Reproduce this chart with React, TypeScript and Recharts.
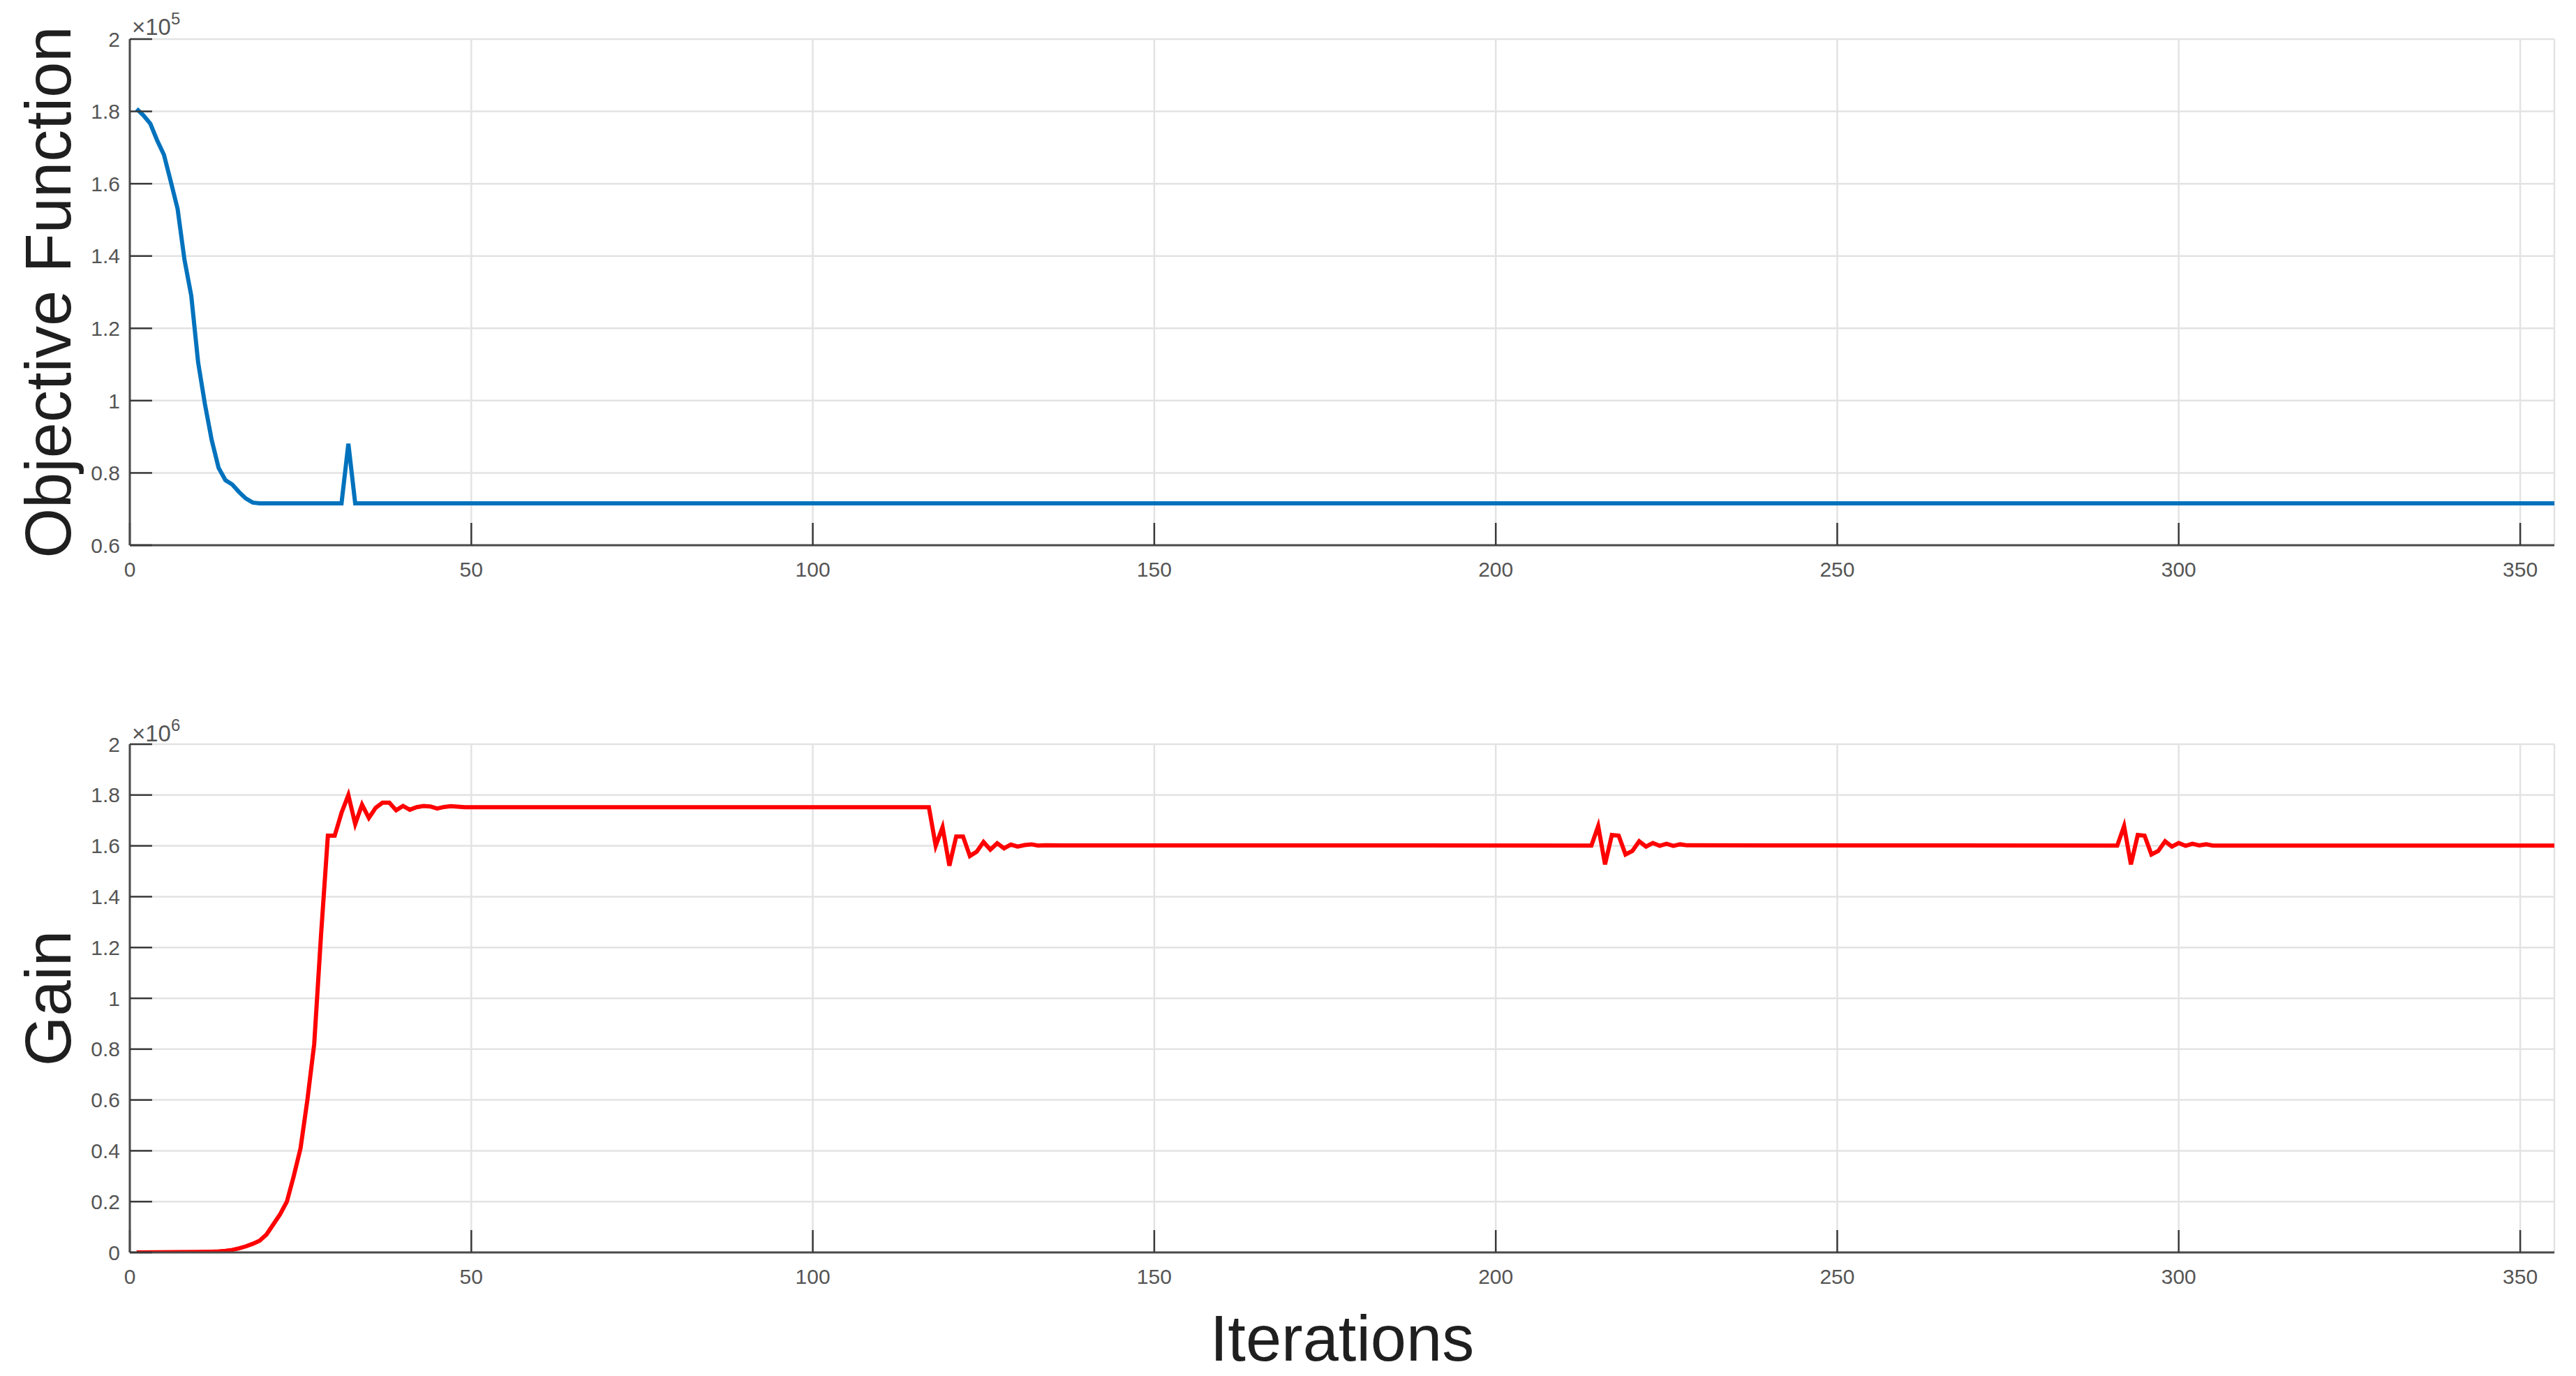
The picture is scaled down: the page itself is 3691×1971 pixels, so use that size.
import { LineChart, Line, XAxis, YAxis, CartesianGrid, Label } from "recharts";

const FONT = '"Liberation Sans", Arial, Helvetica, sans-serif';

const iterTicks = [0, 50, 100, 150, 200, 250, 300, 350];
const objTicks = [0.6, 0.8, 1, 1.2, 1.4, 1.6, 1.8, 2];
const gainTicks = [0, 0.2, 0.4, 0.6, 0.8, 1, 1.2, 1.4, 1.6, 1.8, 2];

// objective function, in units of 1e5
const objIterations = [
  1, 2, 3, 4, 5, 6, 7, 8, 9, 10, 11, 12, 13, 14, 15, 16, 17, 18, 19, 31, 32, 33, 355,
];
const objValues = [
  1.807, 1.789, 1.766, 1.72, 1.68, 1.606, 1.53, 1.39, 1.29, 1.106, 0.99, 0.89, 0.814,
  0.78, 0.768, 0.747, 0.729, 0.718, 0.716, 0.716, 0.881, 0.716, 0.716,
];

// gain, in units of 1e6
const gainIterations = [
  1, 10, 12, 13, 14, 15, 16, 17, 18, 19, 20, 21, 22, 23, 24, 25, 26, 27, 28, 29, 30,
  31, 32, 33, 34, 35, 36, 37, 38, 39, 40, 41, 42, 43, 44, 45, 46, 47, 48, 49,
  117, 118, 119, 120, 121, 122, 123, 124, 125, 126, 127, 128, 129, 130, 131, 132, 133, 134,
  214, 215, 216, 217, 218, 219, 220, 221, 222, 223, 224, 225, 226, 227, 228,
  291, 292, 293, 294, 295, 296, 297, 298, 299, 300, 301, 302, 303, 304, 305, 355,
];
const gainValues = [
  0, 0.002, 0.003, 0.004, 0.006, 0.01, 0.016, 0.024, 0.034, 0.046, 0.07, 0.11, 0.15,
  0.2, 0.3, 0.41, 0.6, 0.82, 1.25, 1.64, 1.64,
  1.73, 1.8, 1.686, 1.762, 1.71, 1.75, 1.77, 1.77, 1.74, 1.757, 1.742, 1.752, 1.757,
  1.755, 1.747, 1.753, 1.756, 1.754, 1.752,
  1.752, 1.6, 1.673, 1.522, 1.637, 1.637, 1.56, 1.577, 1.615, 1.585, 1.61, 1.59, 1.605,
  1.597, 1.603, 1.606, 1.601, 1.602,
  1.601, 1.678, 1.527, 1.643, 1.64, 1.566, 1.58, 1.618, 1.597, 1.611, 1.6, 1.608, 1.6,
  1.606, 1.602,
  1.601, 1.678, 1.527, 1.643, 1.64, 1.566, 1.58, 1.618, 1.597, 1.611, 1.6, 1.608, 1.602,
  1.606, 1.601, 1.601,
];

const objData = objIterations.map((iter, i) => ({ iter, value: objValues[i] }));
const gainData = gainIterations.map((iter, i) => ({ iter, value: gainValues[i] }));

const axisStyle = { stroke: "#4a4a4a", strokeWidth: 3 };
const tickStyle = { stroke: "#3a3a3a", strokeWidth: 2.5 };
const tickText = { fill: "#555", fontSize: 30, fontFamily: FONT };

const fmt = (v: number) => String(Math.round(v * 10) / 10);

function EmptyTick() {
  return <g />;
}

function Panel({
  data,
  color,
  yTicks,
  yDomain,
  yLabel,
  height,
  top,
  xAxisHeight,
  xLabel,
}: {
  data: { iter: number; value: number }[];
  color: string;
  yTicks: number[];
  yDomain: [number, number];
  yLabel: string;
  height: number;
  top: number;
  xAxisHeight: number;
  xLabel?: string;
}) {
  return (
    <LineChart
      width={3691}
      height={height}
      data={data}
      margin={{ top, right: 31, bottom: 0, left: 0 }}
    >
      <CartesianGrid stroke="#e3e3e3" strokeWidth={2.5} />
      <XAxis
        dataKey="iter"
        type="number"
        domain={[0, 355]}
        ticks={iterTicks}
        allowDataOverflow
        interval={0}
        height={xAxisHeight}
        tickSize={-32}
        tickMargin={56}
        tick={tickText}
        axisLine={axisStyle}
        tickLine={tickStyle}
      >
        {xLabel && (
          <Label
            value={xLabel}
            position="insideBottom"
            offset={22}
            fill="#1f1f1f"
            fontSize={92}
            style={{ fontFamily: FONT }}
          />
        )}
      </XAxis>
      <XAxis
        xAxisId="t"
        orientation="top"
        dataKey="iter"
        type="number"
        domain={[0, 355]}
        ticks={iterTicks}
        allowDataOverflow
        interval={0}
        height={0}
        tickSize={-32}
        tick={EmptyTick}
        axisLine={axisStyle}
        tickLine={tickStyle}
      />
      <YAxis
        type="number"
        domain={yDomain}
        ticks={yTicks}
        allowDataOverflow
        interval={0}
        width={186}
        tickSize={-32}
        tickMargin={46}
        tick={tickText}
        tickFormatter={fmt}
        axisLine={axisStyle}
        tickLine={tickStyle}
      >
        <Label
          value={yLabel}
          angle={-90}
          position="insideLeft"
          offset={68}
          textAnchor="middle"
          fill="#1f1f1f"
          fontSize={92}
          style={{ fontFamily: FONT }}
        />
      </YAxis>
      <YAxis
        yAxisId="r"
        orientation="right"
        type="number"
        domain={yDomain}
        ticks={yTicks}
        allowDataOverflow
        interval={0}
        width={0}
        tickSize={-32}
        tick={EmptyTick}
        axisLine={axisStyle}
        tickLine={tickStyle}
      />
      <Line
        dataKey="value"
        type="linear"
        stroke={color}
        strokeWidth={6}
        dot={false}
        isAnimationActive={false}
      />
    </LineChart>
  );
}

export default function App() {
  return (
    <div
      style={{
        position: "absolute",
        left: 0,
        top: 0,
        width: 3691,
        height: 1971,
        background: "#fff",
        fontFamily: FONT,
      }}
    >
      <div style={{ position: "absolute", left: 0, top: 0 }}>
        <Panel
          data={objData}
          color="#0072BD"
          yTicks={objTicks}
          yDomain={[0.6, 2]}
          yLabel="Objective Function"
          height={900}
          top={56}
          xAxisHeight={119}
        />
      </div>
      <div style={{ position: "absolute", left: 0, top: 960 }}>
        <Panel
          data={gainData}
          color="#FF0000"
          yTicks={gainTicks}
          yDomain={[0, 2]}
          yLabel="Gain"
          height={1011}
          top={106}
          xAxisHeight={177}
          xLabel="Iterations"
        />
      </div>
      <svg
        width={3691}
        height={1971}
        style={{ position: "absolute", left: 0, top: 0, pointerEvents: "none" }}
      >
        <text x={189} y={50} fontSize={33} fill="#555" fontFamily={FONT}>
          ×10
          <tspan dy={-15} fontSize={24}>
            5
          </tspan>
        </text>
        <text x={189} y={1062} fontSize={33} fill="#555" fontFamily={FONT}>
          ×10
          <tspan dy={-15} fontSize={24}>
            6
          </tspan>
        </text>
      </svg>
    </div>
  );
}
